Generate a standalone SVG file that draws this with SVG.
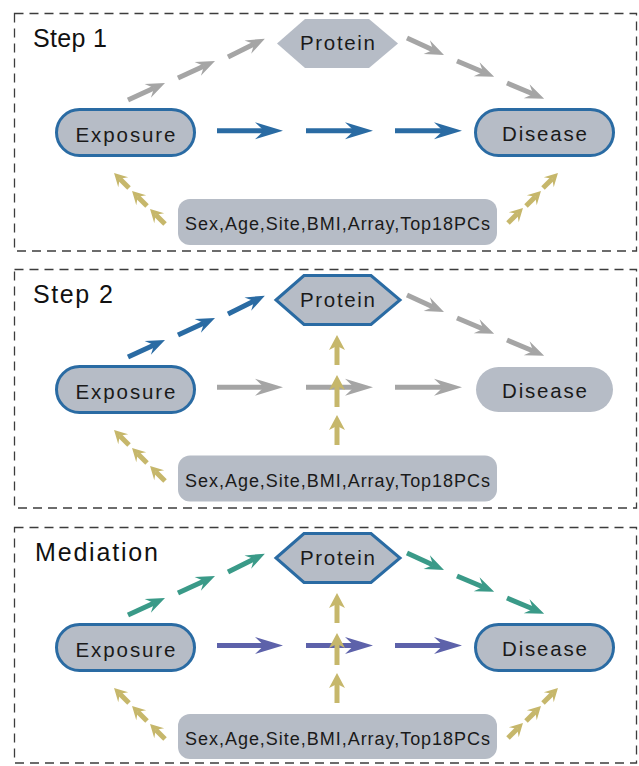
<svg xmlns="http://www.w3.org/2000/svg" width="639" height="766" viewBox="0 0 639 766">
<style>
.panel{fill:none;stroke:#3c3c3c;stroke-width:1.3;stroke-dasharray:9 6}
.title{font-family:"Liberation Sans",Arial,sans-serif;font-size:25px;fill:#111}
.lbl{font-family:"Liberation Sans",Arial,sans-serif;font-size:20.5px;fill:#1a1a1a;text-anchor:middle}
.cov{font-family:"Liberation Sans",Arial,sans-serif;font-size:18px;fill:#1a1a1a;text-anchor:middle}
.node{fill:#b6bcc6}
.bl{stroke:#2a6ba3;stroke-width:3}
.hb{stroke:#2a6ba3;stroke-width:5;fill:none}
.hg{stroke:#a5a5a5;stroke-width:5;fill:none}
.hp{stroke:#5d62aa;stroke-width:5;fill:none}
.ht{stroke:#3a9a88;stroke-width:5;fill:none}
.hy{stroke:#c6b76b;stroke-width:5;fill:none}
</style>
<defs>
<marker id="bigB" markerUnits="userSpaceOnUse" viewBox="-11 -9 32 18" refX="0" refY="0" markerWidth="32" markerHeight="18" orient="auto" overflow="visible"><path d="M-9,-8.5 L19,0 L-9,8.5 L0,0 Z" fill="#2a6ba3"/></marker>
<marker id="bigG" markerUnits="userSpaceOnUse" viewBox="-11 -9 32 18" refX="0" refY="0" markerWidth="32" markerHeight="18" orient="auto" overflow="visible"><path d="M-9,-8.5 L19,0 L-9,8.5 L0,0 Z" fill="#a5a5a5"/></marker>
<marker id="bigP" markerUnits="userSpaceOnUse" viewBox="-11 -9 32 18" refX="0" refY="0" markerWidth="32" markerHeight="18" orient="auto" overflow="visible"><path d="M-9,-8.5 L19,0 L-9,8.5 L0,0 Z" fill="#5d62aa"/></marker>
<marker id="medG" markerUnits="userSpaceOnUse" viewBox="-8 -8 22 16" refX="0" refY="0" markerWidth="22" markerHeight="16" orient="auto" overflow="visible"><path d="M-7,-7.5 L12,0 L-7,7.5 L0,0 Z" fill="#a5a5a5"/></marker>
<marker id="medB" markerUnits="userSpaceOnUse" viewBox="-8 -8 22 16" refX="0" refY="0" markerWidth="22" markerHeight="16" orient="auto" overflow="visible"><path d="M-7,-7.5 L12,0 L-7,7.5 L0,0 Z" fill="#2a6ba3"/></marker>
<marker id="medT" markerUnits="userSpaceOnUse" viewBox="-8 -8 22 16" refX="0" refY="0" markerWidth="22" markerHeight="16" orient="auto" overflow="visible"><path d="M-7,-7.5 L12,0 L-7,7.5 L0,0 Z" fill="#3a9a88"/></marker>
<marker id="smY" markerUnits="userSpaceOnUse" viewBox="-6 -8 16 16" refX="0" refY="0" markerWidth="16" markerHeight="16" orient="auto" overflow="visible"><path d="M-5,-7 L8,0 L-5,7 L0,0 Z" fill="#c6b76b"/></marker>
<marker id="vY" markerUnits="userSpaceOnUse" viewBox="-5 -9 17 18" refX="0" refY="0" markerWidth="17" markerHeight="18" orient="auto" overflow="visible"><path d="M-4,-8 L11,0 L-4,8 L0,0 Z" fill="#c6b76b"/></marker>
</defs>

<!-- ===== Panel 1 ===== -->
<g id="panel1">
<rect class="panel" x="14.5" y="13.5" width="622" height="237.5"/>
<text class="title" x="33" y="47" textLength="74">Step 1</text>
<g id="p1-exposure"><rect class="node bl" x="56.5" y="109.5" width="138" height="46" rx="23"/><text class="lbl" x="125.5" y="141.5" textLength="100" lengthAdjust="spacing">Exposure</text></g>
<g id="p1-disease"><rect class="node bl" x="475.5" y="109.5" width="138" height="46" rx="23"/><text class="lbl" x="544.5" y="140.5" textLength="85" lengthAdjust="spacing">Disease</text></g>
<g id="p1-protein"><polygon class="node" points="277,43.5 305,19 369,19 398,43.5 369,68 305,68"/><text class="lbl" x="337.5" y="50" textLength="75" lengthAdjust="spacing">Protein</text></g>
<g id="p1-covariates"><rect class="node" x="178" y="199" width="319" height="46" rx="12"/><text class="cov" x="337.5" y="230" textLength="305" lengthAdjust="spacing">Sex,Age,Site,BMI,Array,Top18PCs</text></g>
<g id="p1-connectors">
<line class="hg" x1="128" y1="100" x2="154.1" y2="88" marker-end="url(#medG)"/>
<line class="hg" x1="178" y1="78" x2="204.1" y2="66" marker-end="url(#medG)"/>
<line class="hg" x1="228" y1="57" x2="254.1" y2="44" marker-end="url(#medG)"/>
<line class="hg" x1="407" y1="38" x2="433.1" y2="50" marker-end="url(#medG)"/>
<line class="hg" x1="457" y1="61" x2="483.1" y2="72" marker-end="url(#medG)"/>
<line class="hg" x1="507" y1="83" x2="533.1" y2="94" marker-end="url(#medG)"/>
<line class="hb" x1="217" y1="130.7" x2="264" y2="130.7" marker-end="url(#bigB)"/>
<line class="hb" x1="306" y1="130.7" x2="354" y2="130.7" marker-end="url(#bigB)"/>
<line class="hb" x1="395" y1="130.7" x2="443" y2="130.7" marker-end="url(#bigB)"/>
<line class="hy" x1="129" y1="188" x2="119.7" y2="178.7" marker-end="url(#smY)"/>
<line class="hy" x1="147" y1="206" x2="137.7" y2="196.7" marker-end="url(#smY)"/>
<line class="hy" x1="165" y1="224" x2="155.7" y2="214.7" marker-end="url(#smY)"/>
<line class="hy" x1="543" y1="188" x2="552.3" y2="178.7" marker-end="url(#smY)"/>
<line class="hy" x1="526" y1="206" x2="535.3" y2="196.7" marker-end="url(#smY)"/>
<line class="hy" x1="508" y1="223" x2="517.3" y2="213.7" marker-end="url(#smY)"/>
</g>
</g>

<!-- ===== Panel 2 ===== -->
<g id="panel2">
<rect class="panel" x="14.5" y="269.5" width="622" height="238.5"/>
<g transform="translate(0,257)">
<text class="title" x="33" y="46" textLength="80">Step 2</text>
<g id="p2-exposure"><rect class="node bl" x="56.5" y="109.5" width="138" height="46" rx="23"/><text class="lbl" x="125.5" y="141.5" textLength="100" lengthAdjust="spacing">Exposure</text></g>
<g id="p2-disease"><rect class="node" x="476" y="110" width="137" height="45" rx="22.5"/><text class="lbl" x="544.5" y="140.5" textLength="85" lengthAdjust="spacing">Disease</text></g>
<g id="p2-protein"><polygon class="node bl" points="276,43 304,18.5 371,18.5 400,43 371,67.5 304,67.5"/><text class="lbl" x="337.5" y="50" textLength="75" lengthAdjust="spacing">Protein</text></g>
<g id="p2-covariates"><rect class="node" x="178" y="198.5" width="319" height="46" rx="12"/><text class="cov" x="337.5" y="229.5" textLength="305" lengthAdjust="spacing">Sex,Age,Site,BMI,Array,Top18PCs</text></g>
<g id="p2-connectors">
<line class="hb" x1="128" y1="100" x2="154.1" y2="88" marker-end="url(#medB)"/>
<line class="hb" x1="178" y1="78" x2="204.1" y2="66" marker-end="url(#medB)"/>
<line class="hb" x1="228" y1="57" x2="254.1" y2="44" marker-end="url(#medB)"/>
<line class="hg" x1="407" y1="38" x2="433.1" y2="50" marker-end="url(#medG)"/>
<line class="hg" x1="457" y1="61" x2="483.1" y2="72" marker-end="url(#medG)"/>
<line class="hg" x1="507" y1="83" x2="533.1" y2="94" marker-end="url(#medG)"/>
<line class="hg" x1="217" y1="130.3" x2="264" y2="130.3" marker-end="url(#bigG)"/>
<line class="hg" x1="306" y1="130.3" x2="354" y2="130.3" marker-end="url(#bigG)"/>
<line class="hg" x1="395" y1="130.3" x2="443" y2="130.3" marker-end="url(#bigG)"/>
<line class="hy" x1="129" y1="188" x2="119.7" y2="178.7" marker-end="url(#smY)"/>
<line class="hy" x1="147" y1="206" x2="137.7" y2="196.7" marker-end="url(#smY)"/>
<line class="hy" x1="165" y1="224" x2="155.7" y2="214.7" marker-end="url(#smY)"/>
<line class="hy" x1="337" y1="108" x2="337" y2="89" marker-end="url(#vY)"/>
<line class="hy" x1="337" y1="150" x2="337" y2="129" marker-end="url(#vY)"/>
<line class="hy" x1="337" y1="188" x2="337" y2="169" marker-end="url(#vY)"/>
</g>
</g>
</g>

<!-- ===== Panel 3 ===== -->
<g id="panel3">
<rect class="panel" x="14.5" y="527.5" width="622" height="235.5"/>
<g transform="translate(0,515)">
<text class="title" x="35" y="46" textLength="123">Mediation</text>
<g id="p3-exposure"><rect class="node bl" x="56.5" y="109.5" width="138" height="46" rx="23"/><text class="lbl" x="125.5" y="141.5" textLength="100" lengthAdjust="spacing">Exposure</text></g>
<g id="p3-disease"><rect class="node bl" x="475.5" y="109.5" width="138" height="46" rx="23"/><text class="lbl" x="544.5" y="140.5" textLength="85" lengthAdjust="spacing">Disease</text></g>
<g id="p3-protein"><polygon class="node bl" points="276,43 304,18.5 371,18.5 400,43 371,67.5 304,67.5"/><text class="lbl" x="337.5" y="50" textLength="75" lengthAdjust="spacing">Protein</text></g>
<g id="p3-covariates"><rect class="node" x="178" y="199" width="319" height="45" rx="12"/><text class="cov" x="337.5" y="229.5" textLength="305" lengthAdjust="spacing">Sex,Age,Site,BMI,Array,Top18PCs</text></g>
<g id="p3-connectors">
<line class="ht" x1="128" y1="100" x2="154.1" y2="88" marker-end="url(#medT)"/>
<line class="ht" x1="178" y1="78" x2="204.1" y2="66" marker-end="url(#medT)"/>
<line class="ht" x1="228" y1="57" x2="254.1" y2="44" marker-end="url(#medT)"/>
<line class="ht" x1="407" y1="38" x2="433.1" y2="50" marker-end="url(#medT)"/>
<line class="ht" x1="457" y1="61" x2="483.1" y2="72" marker-end="url(#medT)"/>
<line class="ht" x1="507" y1="83" x2="533.1" y2="94" marker-end="url(#medT)"/>
<line class="hp" x1="217" y1="130.5" x2="264" y2="130.5" marker-end="url(#bigP)"/>
<line class="hp" x1="306" y1="130.5" x2="354" y2="130.5" marker-end="url(#bigP)"/>
<line class="hp" x1="395" y1="130.5" x2="443" y2="130.5" marker-end="url(#bigP)"/>
<line class="hy" x1="129" y1="188" x2="119.7" y2="178.7" marker-end="url(#smY)"/>
<line class="hy" x1="147" y1="206" x2="137.7" y2="196.7" marker-end="url(#smY)"/>
<line class="hy" x1="165" y1="224" x2="155.7" y2="214.7" marker-end="url(#smY)"/>
<line class="hy" x1="543" y1="188" x2="552.3" y2="178.7" marker-end="url(#smY)"/>
<line class="hy" x1="526" y1="206" x2="535.3" y2="196.7" marker-end="url(#smY)"/>
<line class="hy" x1="508" y1="223" x2="517.3" y2="213.7" marker-end="url(#smY)"/>
<line class="hy" x1="337" y1="108" x2="337" y2="89" marker-end="url(#vY)"/>
<line class="hy" x1="337" y1="150" x2="337" y2="129" marker-end="url(#vY)"/>
<line class="hy" x1="337" y1="188" x2="337" y2="169" marker-end="url(#vY)"/>
</g>
</g>
</g>
</svg>
